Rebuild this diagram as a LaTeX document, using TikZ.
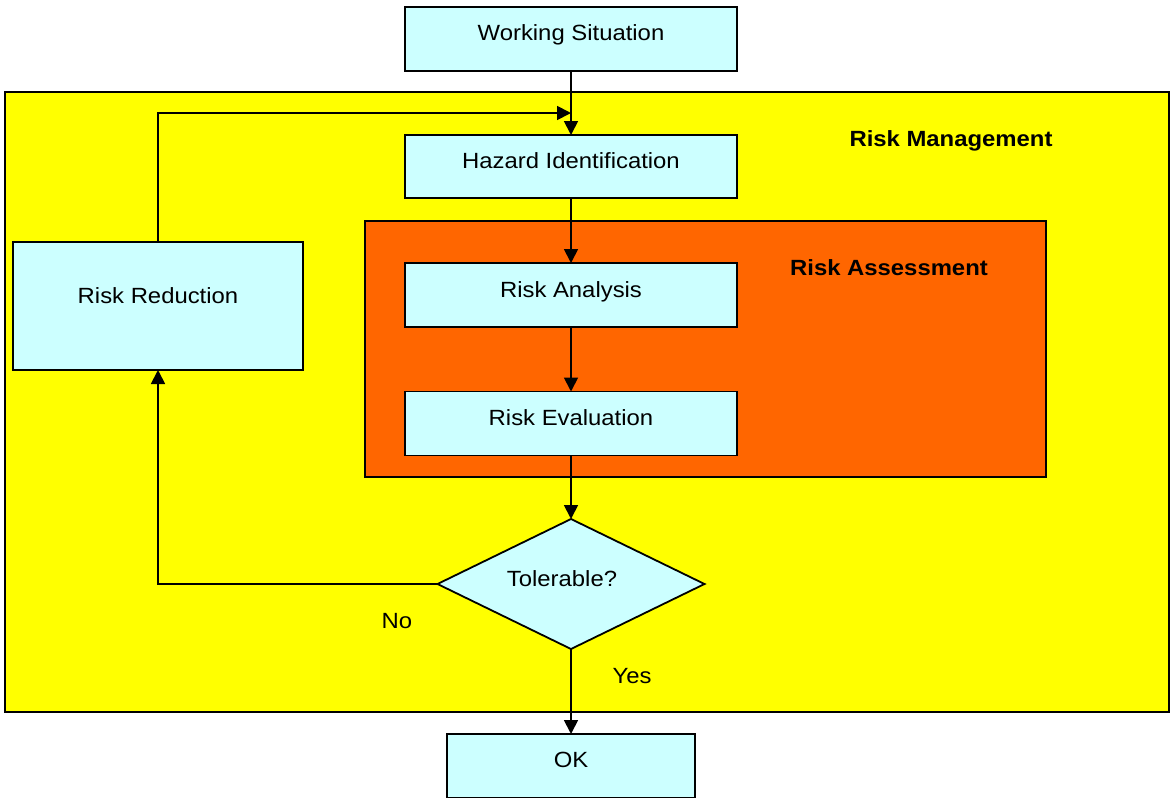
\documentclass[tikz,border=0pt]{standalone}
\usepackage{fontspec}
\setmainfont[FakeStretch=1.085]{Liberation Sans}
\usetikzlibrary{arrows.meta,shapes.geometric}
\definecolor{boxfill}{HTML}{CCFFFF}
\definecolor{rmyellow}{HTML}{FFFF00}
\definecolor{raorange}{HTML}{FF6600}
\begin{document}
\begin{tikzpicture}[x=1pt,y=-1pt,
  stepbox/.style={draw=black,line width=1.8pt,fill=boxfill,rectangle,inner sep=0pt,outer sep=0pt},
  txt/.style={anchor=base,inner sep=0pt,font=\fontsize{22}{26}\selectfont},
  btxt/.style={anchor=base,inner sep=0pt,font=\fontsize{22}{26}\selectfont\bfseries},
  region/.style={draw=black,line width=1.8pt},
  arr/.style={draw=black,line width=1.8pt,-{Triangle[length=14pt,width=14pt]}}]
\useasboundingbox (0,0) rectangle (1171,798);
% regions
\draw[region,fill=rmyellow] (5,92) rectangle (1169,712);
\draw[region,fill=raorange] (365,221) rectangle (1046,477);
% boxes
\node[stepbox,minimum width=332pt,minimum height=64pt] (ws) at (571,39) {};
\node[stepbox,minimum width=332pt,minimum height=63pt] (hi) at (571,166.5) {};
\node[stepbox,minimum width=332pt,minimum height=64pt] (ra) at (571,295) {};
\node[stepbox,minimum width=332pt,minimum height=64pt] (re) at (571,423.5) {};
\node[stepbox,minimum width=290pt,minimum height=128pt] (rr) at (158,306) {};
\node[stepbox,minimum width=248pt,minimum height=64pt] (ok) at (571,766) {};
\node[draw=black,line width=1.8pt,fill=boxfill,diamond,inner sep=0pt,outer sep=0pt,
      minimum width=267pt,minimum height=130pt] (tol) at (571,584) {};
% texts
\node[txt] (tws) at (571,40) {Working Situation};
\node[txt] (thi) at (571,168) {Hazard Identification};
\node[txt] (tra) at (571,297) {Risk Analysis};
\node[txt] (tre) at (571,425) {Risk Evaluation};
\node[txt] (trr) at (158,303) {Risk Reduction};
\node[txt] (tok) at (571,767) {OK};
\node[txt] (ttol) at (562,586) {Tolerable?};
\node[txt] (tno) at (397,628) {No};
\node[txt] (tyes) at (632,683) {Yes};
\node[btxt] (trm) at (951,146) {Risk Management};
\node[btxt] (tras) at (889,275) {Risk Assessment};
% connectors
\coordinate (join) at (571,113);
\draw[arr] (ws.south) -- (hi.north);
\draw[arr] (rr.north) |- (join);
\draw[arr] (hi.south) -- (ra.north);
\draw[arr] (ra.south) -- (re.north);
\draw[arr] (re.south) -- (tol.north);
\draw[arr] (tol.west) -| (rr.south);
\draw[arr] (tol.south) -- (ok.north);
\end{tikzpicture}
\end{document}
